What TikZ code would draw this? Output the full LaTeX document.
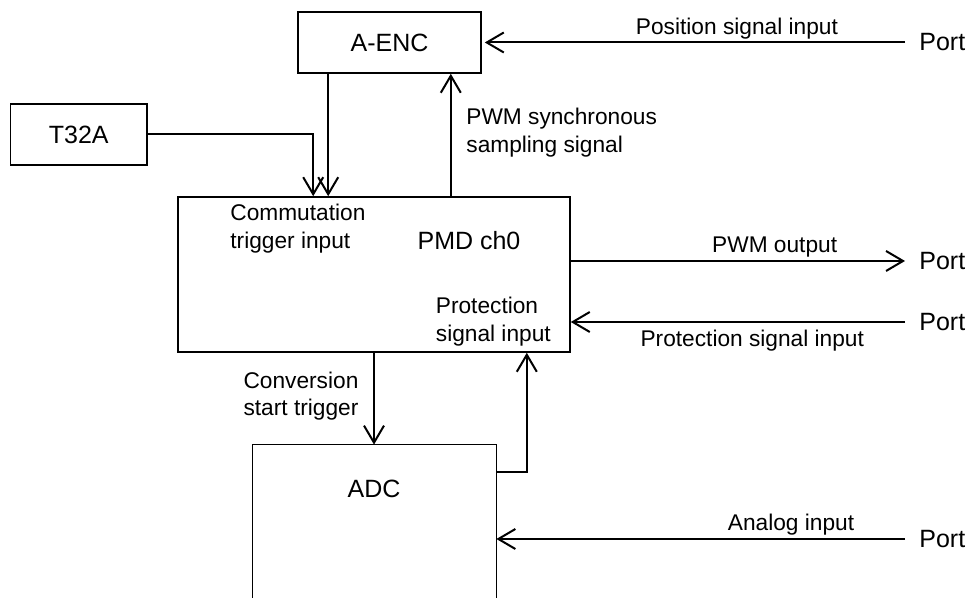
\documentclass[tikz,border=0pt]{standalone}
\usepackage{fontspec}
\setmainfont{Liberation Sans}
\usetikzlibrary{arrows.meta}

\begin{document}
\begin{tikzpicture}[x=0.5pt,y=0.5pt,
    blk/.style={draw,line width=0.8pt,inner sep=0pt,font=\fontsize{12.5}{15}\selectfont},
    sig/.style={line width=1pt,-{Straight Barb[length=8.5pt,width=10pt]}},
    lbl/.style={inner sep=1.3pt,align=left,font=\fontsize{11.35}{13.8}\selectfont},
    port/.style={anchor=west,inner sep=7pt,font=\fontsize{12.5}{15}\selectfont}]
    \useasboundingbox (0,0) rectangle (969,598);
    % blocks
    \node[blk,minimum width=91.5pt,minimum height=30.5pt] (aenc) at (389.5,555.5) {A-ENC};
    \node[blk,minimum width=68.25pt,minimum height=30.5pt] (t32a) at (78.75,463.5) {T32A};
    \node[blk,minimum width=196pt,minimum height=77.5pt] (pmd) at (374,323.5) {};
    \node[minimum width=121.5pt,minimum height=76.5pt,inner sep=0pt] (adc) at (374.5,76.5) {};
    \draw[line width=0.8pt] (adc.south west) -- (adc.north west) -- (adc.north east) -- (adc.south east);
    % texts in the blocks
    \node[lbl,inner sep=0pt,anchor=north west] (commlbl) at (230,394) {Commutation\\trigger input};
    \node[inner sep=0pt,anchor=base,font=\fontsize{12.5}{15}\selectfont] (pmdlbl) at (469,348) {PMD ch0};
    \node[lbl,inner sep=0pt,anchor=north west] (protlbl) at (435.5,301) {Protection\\signal input};
    \node[inner sep=0pt,font=\fontsize{12.5}{15}\selectfont] (adclbl) at (374,109.5) {ADC};
    % ports
    \node[port] (port1) at (905,555.5) {Port};
    \node[port] (port2) at (905,337) {Port};
    \node[port] (port3) at (905,276) {Port};
    \node[port] (port4) at (905,59) {Port};
    % connection points
    \coordinate (aencin) at ([xshift=15.5pt]aenc.south west);
    \coordinate (syncout) at ([xshift=-15.5pt]aenc.south east);
    \coordinate (trigin) at ([xshift=68pt]pmd.north west);
    \coordinate (protin) at ([xshift=-22pt]pmd.south east);
    \coordinate (adcout) at ([yshift=-13.5pt]adc.north east);
    % signals
    \draw[sig] (port1.west) -- ([xshift=1.5pt]port1.west -| aenc.east)
        node[lbl,above,pos=0.4] {Position signal input};
    \draw[sig] ([yshift=0.25pt]t32a.east) -| (trigin);
    \draw[sig] (aencin) -- (aencin |- pmd.north);
    \draw[sig] (syncout |- pmd.north) -- (syncout)
        node[lbl,right=6pt,pos=0.52] {PWM synchronous\\sampling signal};
    \draw[sig] (port2.west -| pmd.east) -- (port2.west)
        node[lbl,above,pos=0.61] {PWM output};
    \draw[sig] (port3.west) -- (port3.west -| pmd.east)
        node[lbl,below=2pt,pos=0.457] {Protection signal input};
    \draw[sig] (pmd.south) -- (pmd.south |- adc.north)
        node[lbl,left=6pt,pos=0.47] {Conversion\\start trigger};
    \draw[sig] (adcout) -| (protin);
    \draw[sig] (port4.west) -- (port4.west -| adc.east)
        node[lbl,above,pos=0.279] {Analog input};
\end{tikzpicture}
\end{document}
